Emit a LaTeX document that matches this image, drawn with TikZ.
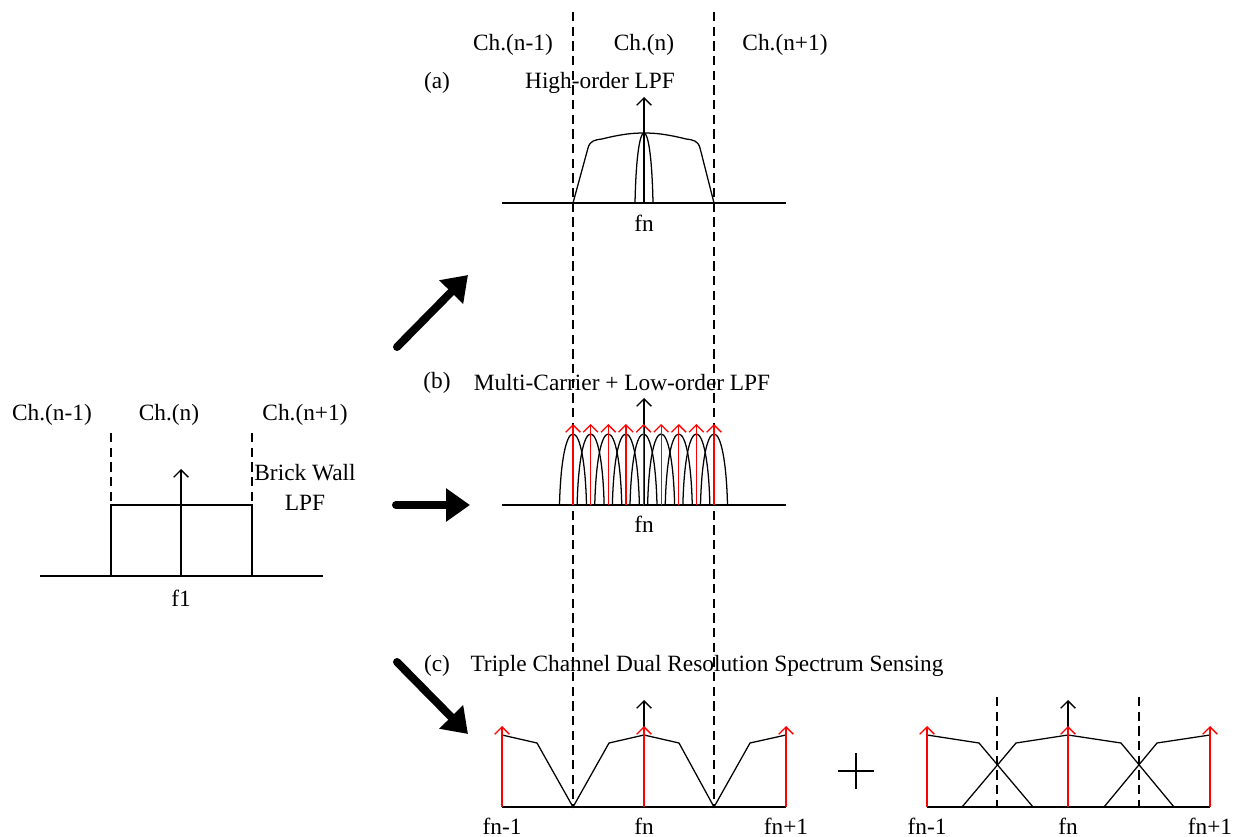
\documentclass[tikz,border=0pt]{standalone}
\usepackage{fontspec}
\setmainfont{Liberation Serif}
\usetikzlibrary{arrows.meta}
\begin{document}
\begin{tikzpicture}[x=0.75pt,y=-0.75pt,
  ln/.style={line width=0.95pt},
  dsh/.style={line width=0.95pt, dash pattern=on 7pt off 4pt},
  sig/.style={line width=0.95pt, -{Straight Barb[length=5.5pt,width=11pt]}},
  rsig/.style={sig, draw=red},
  big/.style={line width=6pt, line cap=round, -{Triangle[length=18pt,width=24pt]}},
  lbl/.style={font=\fontsize{17.5}{20}\selectfont, inner sep=0pt}]
\useasboundingbox (0,0) rectangle (1241,837);

% ---------- left panel: brick wall ----------
\node[lbl] (l1) at (52,415) {Ch.(n-1)};
\node[lbl] (l2) at (169,415) {Ch.(n)};
\node[lbl] (l3) at (305,415) {Ch.(n+1)};
\node[lbl] (bw1) at (305,473) {Brick Wall};
\node[lbl] (bw2) at (305,503) {LPF};
\node[lbl] (f1) at (181,598) {f1};
\draw[ln] (40,576) -- (323,576);
\draw[ln] (111,576) -- (111,505) -- (252,505) -- (252,576);
\draw[dsh] (111,433) -- (111,505);
\draw[dsh] (252,433) -- (252,505);
\draw[sig] (181,576) -- (181,469);

% ---------- big arrows ----------
\coordinate (t1) at (397,347); \coordinate (h1) at (468,275);
\coordinate (t2) at (396,505); \coordinate (h2) at (470,505);
\coordinate (t3) at (397,662); \coordinate (h3) at (468,734);
\draw[big] (t1) -- (h1);
\draw[big] (t2) -- (h2);
\draw[big] (t3) -- (h3);

% ---------- main dashed channel boundaries ----------
\draw[dsh] (573,12) -- (573,807);
\draw[dsh] (714,12) -- (714,807);

% ---------- panel (a) ----------
\node[lbl] (a1) at (513,45) {Ch.(n-1)};
\node[lbl] (a2) at (644,45) {Ch.(n)};
\node[lbl] (a3) at (785,45) {Ch.(n+1)};
\node[lbl] (al) at (437,83) {(a)};
\node[lbl] (at) at (600,83) {High-order LPF};
\node[lbl] (afn) at (644,223) {fn};
\draw[ln] (502,203) -- (786,203);
\draw[ln] (573,203) -- (588,148) .. controls (590,141) and (594,140) .. (602,139)
  .. controls (618,135) and (630,133) .. (644,133)
  .. controls (658,133) and (670,135) .. (686,139)
  .. controls (694,140) and (698,141) .. (700,148) -- (714,203);
\draw[ln] (635,203) .. controls (636,155) and (640,133) .. (644,133)
  .. controls (648,133) and (652,155) .. (653,203);
\draw[sig] (644,203) -- (644,97);

% ---------- panel (b) ----------
\node[lbl] (bl) at (437,383) {(b)};
\node[lbl] (bt) at (622,383) {Multi-Carrier + Low-order LPF};
\node[lbl] (bfn) at (644,524) {fn};
\draw[ln] (502,505) -- (786,505);
\foreach \c in {573,590.625,...,714.5}{
  \draw[ln] ({\c-13.5},505) .. controls ({\c-12.5},462) and ({\c-7},434) .. (\c,434)
    .. controls ({\c+7},434) and ({\c+12.5},462) .. ({\c+13.5},505);
}
\draw[sig] (644,505) -- (644,398);
\foreach \c in {573,590.625,...,714.5}{
  \draw[rsig] (\c,505) -- (\c,424);
}

% ---------- panel (c) ----------
\node[lbl] (cl) at (437,666) {(c)};
\node[lbl] (ct) at (707,666) {Triple Channel Dual Resolution Spectrum Sensing};
\draw[ln] (502,807) -- (786,807);
\draw[ln] (502,735) -- (537,743) -- (573,807) -- (609,743) -- (644,735)
  -- (679,743) -- (714,807) -- (750,743) -- (786,735);
\draw[sig] (644,807) -- (644,700);
\draw[rsig] (502,807) -- (502,726);
\draw[rsig] (644,807) -- (644,726);
\draw[rsig] (786,807) -- (786,726);
\node[lbl] (c1) at (502,826) {fn-1};
\node[lbl] (c2) at (644,826) {fn};
\node[lbl] (c3) at (786,826) {fn+1};

% plus sign
\draw[ln] (838,771) -- (874,771);
\draw[ln] (856,753) -- (856,789);

% right part
\draw[dsh] (997,697) -- (997,807);
\draw[dsh] (1139,697) -- (1139,807);
\draw[ln] (927,807) -- (1210,807);
\draw[ln] (927,735) -- (979,743) -- (1033,807);
\draw[ln] (962,807) -- (1016,743) -- (1068,735) -- (1121,743) -- (1174,807);
\draw[ln] (1104,807) -- (1157,743) -- (1210,735);
\draw[sig] (1068,807) -- (1068,700);
\draw[rsig] (927,807) -- (927,726);
\draw[rsig] (1068,807) -- (1068,726);
\draw[rsig] (1210,807) -- (1210,726);
\node[lbl] (d1) at (927,826) {fn-1};
\node[lbl] (d2) at (1068,826) {fn};
\node[lbl] (d3) at (1210,826) {fn+1};
\end{tikzpicture}
\end{document}
